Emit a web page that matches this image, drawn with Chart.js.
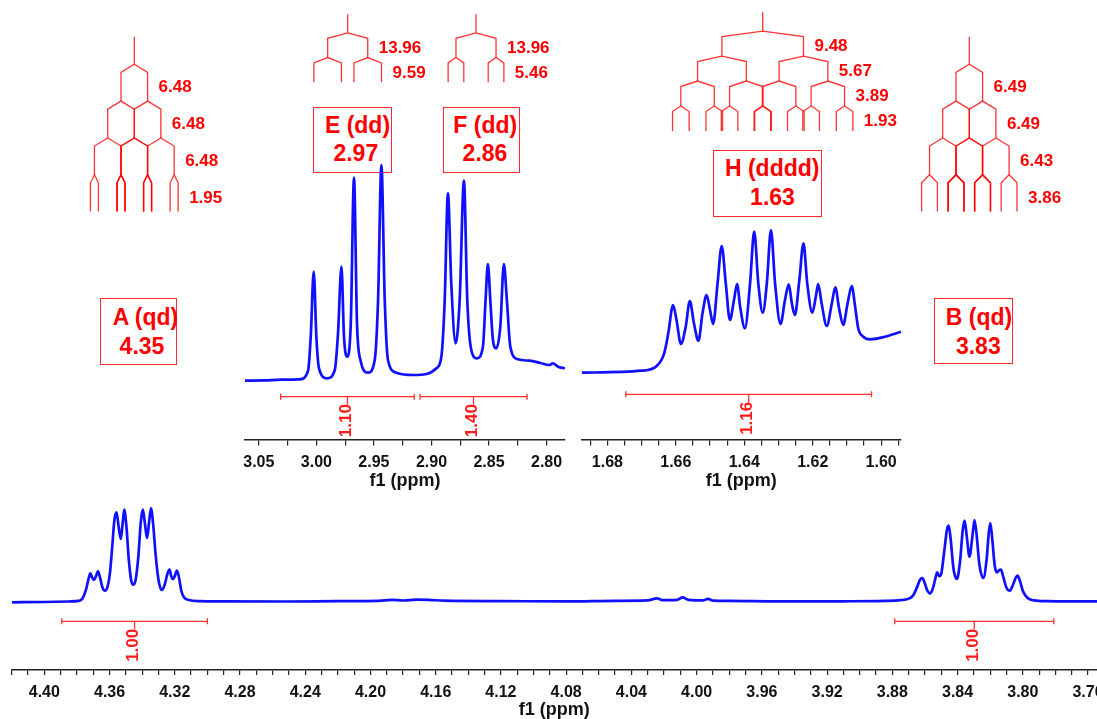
<!DOCTYPE html>
<html><head><meta charset="utf-8">
<script src="https://cdn.jsdelivr.net/npm/chart.js@4.4.1/dist/chart.umd.min.js"></script>
<style>
html,body{margin:0;padding:0;background:#fff;overflow:hidden;width:1097px;height:719px;}
#stage{position:relative;width:1097px;height:719px;overflow:hidden;font-family:'Liberation Sans',Arial,sans-serif;}
canvas{position:absolute;z-index:2;}
.box{position:absolute;border:1px solid #ff2b2b;box-sizing:border-box;z-index:1;}
.lbl{position:absolute;color:#ff0000;font-weight:bold;font-size:23px;line-height:1;transform:translate(-50%,-50%);white-space:nowrap;z-index:1;}
</style></head><body><div id="stage"></div>
<script>
// ---------------- DATA ----------------
// Full spectrum (bottom panel): chemical shift (ppm) and intensity (a.u.)
const mainPpm = [4.420,4.400,4.385,4.3790,4.3768,4.3746,4.3730,4.3718,4.3706,4.3695,4.3683,4.3671,4.3658,4.3645,4.3628,4.3612,4.3598,4.3585,4.3570,4.3557,4.3545,4.3531,4.3521,4.3510,4.3497,4.3482,4.3468,4.3454,4.3440,4.3424,4.3408,4.3396,4.3383,4.3370,4.3358,4.3346,4.3334,4.3318,4.3300,4.3280,4.3262,4.3245,4.3232,4.3221,4.3211,4.3199,4.3187,4.3174,4.3160,4.3144,4.3112,4.3050,4.2900,4.2500,4.2200,4.1950,4.1870,4.1800,4.1720,4.1640,4.1550,4.1200,4.0800,4.0500,4.0300,4.0242,4.0210,4.0120,4.0086,4.0050,3.9960,3.9931,3.9900,3.9800,3.9500,3.9100,3.8850,3.8750,3.8692,3.8670,3.8649,3.8630,3.8616,3.8600,3.8585,3.8569,3.8550,3.8535,3.8525,3.8512,3.8500,3.8482,3.8465,3.8454,3.8442,3.8425,3.8404,3.8385,3.8368,3.8357,3.8344,3.8327,3.8310,3.8296,3.8284,3.8266,3.8242,3.8222,3.8208,3.8199,3.8187,3.8172,3.8158,3.8145,3.8134,3.8120,3.8100,3.8080,3.8060,3.8043,3.8032,3.8018,3.8000,3.7990,3.7965,3.7930,3.7850,3.7700,3.7545];
const mainInt = [-0.6,-0.3,0.2,0.8,2.7,11.0,22.0,28.3,24.0,21.7,25.5,30.3,24.0,15.0,11.0,15.0,28.0,52.0,82.0,89.3,76.0,62.7,76.0,92.0,76.0,42.0,22.0,17.0,22.0,44.0,80.0,92.0,78.0,63.7,79.0,93.3,80.0,48.0,22.0,11.7,17.0,28.0,32.0,25.0,22.7,26.0,31.0,24.0,11.0,4.5,1.7,0.6,0.3,0.2,0.6,0.9,1.8,1.2,2.1,1.8,1.0,0.6,0.3,0.9,1.3,3.3,1.6,1.9,4.3,1.8,1.3,2.8,1.0,0.8,0.3,0.4,0.8,1.5,3.5,7.0,14.3,22.0,23.7,18.0,11.0,8.3,14.0,24.0,29.3,25.5,28.0,50.0,72.0,76.0,62.0,33.0,22.7,40.0,72.0,81.0,66.0,45.0,64.0,81.7,68.0,37.0,23.7,42.0,70.0,78.7,62.0,36.0,29.3,31.5,32.0,25.0,14.0,11.0,17.0,24.0,26.0,21.0,11.0,7.7,3.0,1.3,0.5,0.3,0.4];
const mainTickLabels = [4.40,4.36,4.32,4.28,4.24,4.20,4.16,4.12,4.08,4.04,4.00,3.96,3.92,3.88,3.84,3.80,3.76];
const mainIntegralFrom = [4.3893, 3.8785];
const mainIntegralTo = [4.3000, 3.7810];
const mainIntegralValues = ['1.00','1.00'];

// Inset 1: E / F multiplets
const efPpm = [3.062,3.045,3.030,3.0144,3.0072,3.0049,3.0023,3.0000,2.9977,2.9907,2.9840,2.9812,2.9782,2.9760,2.9733,2.9701,2.9673,2.9647,2.9617,2.9551,2.9493,2.9464,2.9435,2.9406,2.9378,2.9305,2.9160,2.9044,2.8957,2.8914,2.8885,2.8857,2.8828,2.8790,2.8755,2.8718,2.8689,2.8654,2.8605,2.8553,2.8530,2.8510,2.8489,2.8466,2.8437,2.8402,2.8371,2.8345,2.8315,2.8249,2.8148,2.8061,2.7974,2.7945,2.7901,2.7840];
const efInt = [-0.7,-0.3,0.3,0.7,9.3,43.3,108.3,43.3,11.7,1.7,10.0,46.7,113.3,43.3,23.3,56.7,202.3,56.7,20.0,7.3,20.0,80.0,215.0,80.0,20.0,7.3,5.0,6.0,11.7,23.3,80.0,186.7,96.7,36.7,80.0,199.3,80.0,30.0,21.7,33.3,80.0,116.0,80.0,40.0,31.7,53.3,116.0,80.0,33.3,20.7,19.3,17.3,15.0,16.7,13.3,11.7];
const efTickLabels = [3.05,3.00,2.95,2.90,2.85,2.80];
const efIntegralFrom = [3.031, 2.910];
const efIntegralTo = [2.915, 2.817];
const efIntegralValues = ['1.10','1.40'];

// Inset 2: H multiplet
const hPpm = [1.6875,1.6700,1.6656,1.6634,1.6622,1.6608,1.6598,1.6585,1.6571,1.6559,1.6547,1.6534,1.6522,1.6510,1.6500,1.6491,1.6478,1.6466,1.6454,1.6442,1.6430,1.6421,1.6412,1.6398,1.6383,1.6371,1.6359,1.6346,1.6334,1.6322,1.6310,1.6294,1.6281,1.6270,1.6261,1.6252,1.6239,1.6227,1.6216,1.6201,1.6191,1.6184,1.6174,1.6159,1.6144,1.6134,1.6123,1.6111,1.6098,1.6086,1.6076,1.6067,1.6052,1.6033,1.5989,1.5942];
const hInt = [7.3,9.3,14.0,26.7,46.7,75.0,60.0,36.0,53.3,79.0,56.7,39.3,66.7,85.0,70.0,56.0,96.7,134.0,96.7,60.0,80.0,96.0,73.3,51.7,96.7,148.3,96.7,67.3,96.7,150.0,96.7,56.0,80.0,95.7,76.7,65.0,100.0,136.7,96.7,67.3,83.3,96.0,76.7,54.0,76.7,92.7,71.7,55.0,76.7,94.0,73.3,51.7,43.3,40.7,43.3,48.3];
const hTickLabels = [1.68,1.66,1.64,1.62,1.60];
const hIntegralFrom = [1.6746];
const hIntegralTo = [1.6028];
const hIntegralValues = ['1.16'];

// Coupling constants (Hz) for the splitting trees
const jA = [6.48, 6.48, 6.48, 1.95];
const jB = [6.49, 6.49, 6.43, 3.86];
const jE = [13.96, 9.59];
const jF = [13.96, 5.46];
const jH = [9.48, 5.67, 3.89, 1.93];

// Multiplet annotations
const multipletNames = ['A (qd)','B (qd)','E (dd)','F (dd)','H (dddd)'];
const multipletShifts = ['4.35','3.83','2.97','2.86','1.63'];

// ---------------- LAYOUT / STYLE ----------------
const FONT = "'Liberation Sans', Arial, sans-serif";
Chart.defaults.font.family = FONT;
const stage = document.getElementById('stage');
function makeCanvas(l,t,w,h){
  const c=document.createElement('canvas');
  c.width=w;c.height=h;c.style.left=l+'px';c.style.top=t+'px';
  c.style.width=w+'px';c.style.height=h+'px';
  stage.appendChild(c);return c;
}

const integralPlugin = {
  id:'integrals',
  afterDatasetsDraw(chart, args, o){
    if(!o || !o.from) return;
    const xs=chart.scales.x, ys=chart.scales.y, ctx=chart.ctx;
    const y = ys.getPixelForValue(o.level);
    ctx.save();
    ctx.strokeStyle='#ff3030'; ctx.lineWidth=1.3; ctx.fillStyle='#ff1a1a';
    for(let i=0;i<o.from.length;i++){
      const a=o.from[i], b=o.to[i];
      const x1=xs.getPixelForValue(a), x2=xs.getPixelForValue(b), xm=xs.getPixelForValue((a+b)/2);
      ctx.beginPath();
      ctx.moveTo(x1,y);ctx.lineTo(x2,y);
      ctx.moveTo(x1,y-3);ctx.lineTo(x1,y+3);
      ctx.moveTo(x2,y-3);ctx.lineTo(x2,y+3);
      ctx.moveTo(xm,y);ctx.lineTo(xm,y+8);
      ctx.stroke();
      ctx.save();
      ctx.translate(xm-1,y+24);ctx.rotate(-Math.PI/2);
      ctx.font='bold 17px '+FONT;ctx.textAlign='center';ctx.textBaseline='middle';
      ctx.fillText(o.values[i],0,0);
      ctx.restore();
    }
    ctx.restore();
  }
};

function spectrumChart(cfg, ppm, inten, tickLabels, integ){
  const cv = makeCanvas(cfg.left, cfg.top, cfg.width, cfg.height);
  const pts = ppm.map((p,i)=>({x:p,y:inten[i]}));
  return new Chart(cv,{
    type:'scatter',
    data:{datasets:[{data:pts,showLine:true,borderColor:'#1010ff',borderWidth:2.7,pointRadius:0,cubicInterpolationMode:'monotone',fill:false}]},
    options:{
      responsive:false,animation:false,devicePixelRatio:1,
      layout:{padding:{left:cfg.padL,right:cfg.padR,top:0,bottom:0}},
      plugins:{legend:{display:false},tooltip:{enabled:false},integrals:integ},
      scales:{
        x:{type:'linear',reverse:true,min:cfg.xmin,max:cfg.xmax,
          afterFit:s=>{s.paddingLeft=0;s.paddingRight=0;s.height=cfg.scaleH;},
          ticks:{stepSize:cfg.step,autoSkip:false,maxRotation:0,minRotation:0,includeBounds:false,padding:7.5,color:'#111',
            font:{size:16,weight:'bold'},
            callback:v=>{const m=tickLabels.find(l=>Math.abs(l-v)<1e-6);return m===undefined?'':m.toFixed(2);}},
          grid:{drawOnChartArea:false,drawTicks:true,tickLength:5.5,color:'#222',lineWidth:1.2},
          border:{display:true,color:'#222',width:1.5},
          title:{display:true,text:'f1 (ppm)',color:'#111',font:{size:18,weight:'bold',lineHeight:1},padding:{top:0,bottom:0}}
        },
        y:{display:false,min:cfg.ymin,max:cfg.ymax}
      }
    },
    plugins:[integralPlugin]
  });
}

// bottom full spectrum: chart area x 11.7..1097, y 490..669.5
spectrumChart({left:0,top:490,width:1097,height:229,padL:11.7,padR:0,xmin:3.7545,xmax:4.42,step:0.01,scaleH:49.5,ymin:-67.8,ymax:111.7},
  mainPpm, mainInt, mainTickLabels, {from:mainIntegralFrom,to:mainIntegralTo,values:mainIntegralValues,level:-19.6});
// inset E/F: chart area x 245..565, y 160..440
spectrumChart({left:225,top:160,width:360,height:330,padL:20,padR:20,xmin:2.784,xmax:3.062,step:0.025,scaleH:50,ymin:-60,ymax:220},
  efPpm, efInt, efTickLabels, {from:efIntegralFrom,to:efIntegralTo,values:efIntegralValues,level:-16.7});
// inset H: chart area x 581.7..901, y 160..440
spectrumChart({left:560,top:160,width:362,height:330,padL:21.7,padR:21,xmin:1.5942,xmax:1.6875,step:0.005,scaleH:50,ymin:-60,ymax:220},
  hPpm, hInt, hTickLabels, {from:hIntegralFrom,to:hIntegralTo,values:hIntegralValues,level:-14.3});

// ---------------- splitting trees ----------------
const jLabelPlugin = {
  id:'jlabels',
  afterDatasetsDraw(chart,args,o){
    if(!o || !o.values) return;
    const xs=chart.scales.x, ys=chart.scales.y, ctx=chart.ctx;
    ctx.save();
    ctx.fillStyle='#ff0000';ctx.font='bold 17px '+FONT;ctx.textAlign='left';ctx.textBaseline='middle';
    let right=0;
    o.values.forEach((j,i)=>{
      right+=j/2;
      ctx.fillText(j.toFixed(2), xs.getPixelForValue(right)+11, ys.getPixelForValue(i+0.63));
    });
    ctx.restore();
  }
};
function treeChart(J, g){
  const cv = makeCanvas(g.left,g.top,g.width,g.height);
  const seg = pts => ({data:pts,showLine:true,borderColor:'rgba(255,0,0,0.8)',borderWidth:1.3,pointRadius:0,tension:0,clip:false});
  const ds=[seg([{x:0,y:-0.75},{x:0,y:0}])];
  let pos=[0];
  J.forEach((j,i)=>{
    const next=[];
    pos.forEach(p=>{
      ds.push(seg([{x:p-j/2,y:i+1},{x:p-j/2,y:i+0.22},{x:p,y:i},{x:p+j/2,y:i+0.22},{x:p+j/2,y:i+1}]));
      next.push(p-j/2,p+j/2);
    });
    pos=next;
  });
  const xmin=(g.left-g.stemX)/g.pxHz, xmax=(g.left+g.width-g.stemX)/g.pxHz;
  const ymin=(g.top-g.stemY)/g.pxLevel-0.75, ymax=(g.top+g.height-g.stemY)/g.pxLevel-0.75;
  return new Chart(cv,{
    type:'scatter',
    data:{datasets:ds},
    options:{
      responsive:false,animation:false,devicePixelRatio:1,
      layout:{padding:0},
      plugins:{legend:{display:false},tooltip:{enabled:false},jlabels:{values:J}},
      scales:{x:{type:'linear',display:false,min:xmin,max:xmax},y:{type:'linear',display:false,reverse:true,min:ymin,max:ymax}}
    },
    plugins:[jLabelPlugin]
  });
}
treeChart(jA,{left:70,top:28,width:170,height:190,stemX:134.3,stemY:36.7,pxHz:4.1,pxLevel:36.8});
treeChart(jB,{left:905,top:28,width:175,height:190,stemX:969.3,stemY:36.7,pxHz:4.1,pxLevel:36.8});
treeChart(jE,{left:295,top:5,width:140,height:85,stemX:347.7,stemY:14.3,pxHz:2.87,pxLevel:24.7});
treeChart(jF,{left:425,top:5,width:135,height:85,stemX:476,stemY:14.3,pxHz:2.87,pxLevel:24.7});
treeChart(jH,{left:655,top:5,width:255,height:135,stemX:762.7,stemY:12.3,pxHz:8.6,pxLevel:25});

// ---------------- multiplet boxes ----------------
const boxLayout = [
  {l:100,t:298,w:77,h:67,nx:145.5,ny:316.7,sx:142,sy:345.7},
  {l:934,t:298,w:79,h:66,nx:979,ny:316.7,sx:978.3,sy:345.7},
  {l:313,t:107,w:79,h:66,nx:357.5,ny:125,sx:355.8,sy:153.3},
  {l:443,t:107,w:77,h:66,nx:485.3,ny:125,sx:485,sy:153.3},
  {l:713,t:150,w:109,h:67,nx:772.2,ny:167.7,sx:772.5,sy:196.7}
];
multipletNames.forEach((name,i)=>{
  const b=boxLayout[i];
  const d=document.createElement('div');d.className='box';
  d.style.left=b.l+'px';d.style.top=b.t+'px';d.style.width=b.w+'px';d.style.height=b.h+'px';
  stage.appendChild(d);
  const n=document.createElement('div');n.className='lbl';n.textContent=name;n.style.left=b.nx+'px';n.style.top=b.ny+'px';stage.appendChild(n);
  const s=document.createElement('div');s.className='lbl';s.textContent=multipletShifts[i];s.style.left=b.sx+'px';s.style.top=b.sy+'px';stage.appendChild(s);
});
</script></body></html>
